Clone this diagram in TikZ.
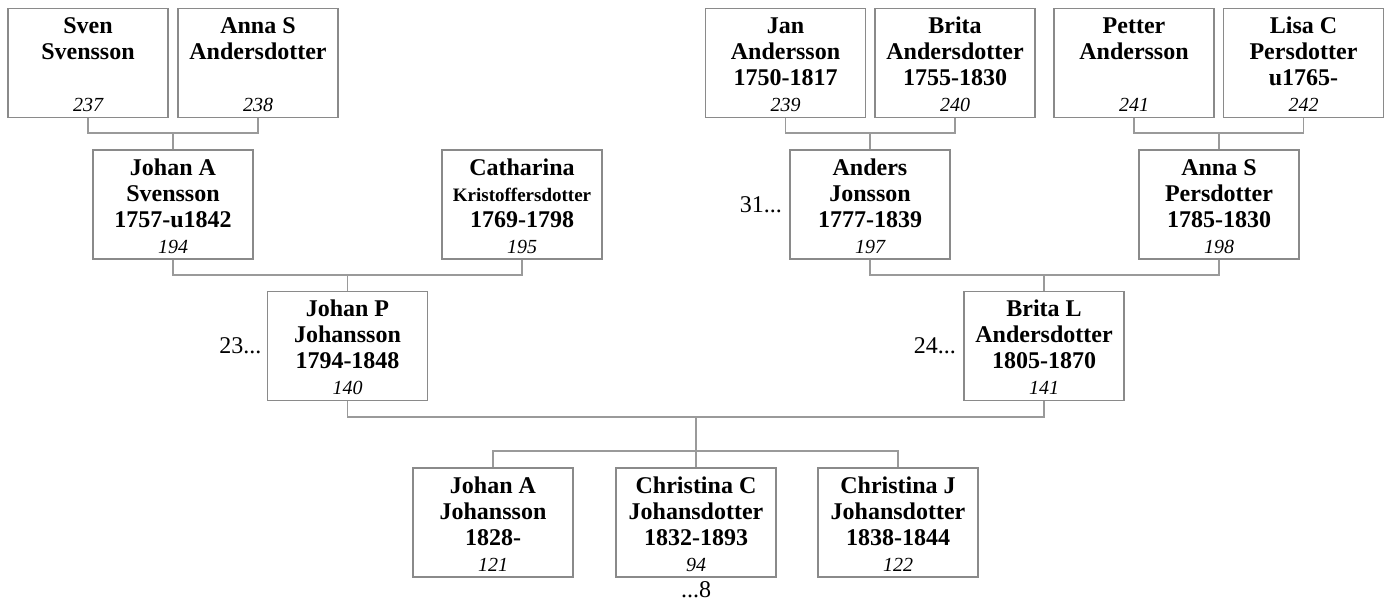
\documentclass[tikz,border=0pt]{standalone}
\usepackage{fontspec}
\setmainfont{Liberation Serif}
\usepackage{tikz}
\usetikzlibrary{positioning}
\definecolor{linegray}{HTML}{9A9A9A}
\definecolor{boxgray}{HTML}{8A8A8A}
% box text: bold name lines on top, italic number at the bottom
\newcommand{\famtext}[2]{\parbox[t][54.5pt][t]{80pt}{\centering
  \fontsize{12}{13}\selectfont\bfseries\rule{0pt}{12.5pt}#1\par\vfill
  {\fontsize{10}{12}\selectfont\mdseries\itshape #2\rule[-3pt]{0pt}{3pt}}\par}}

\begin{document}
\begin{tikzpicture}[x=0.5pt, y=-0.5pt,
  person/.style={draw=boxgray, line width=0.7pt, inner sep=0pt},
  link/.style={draw=linegray, line width=0.8pt},
  more/.style={inner sep=0.5pt, font=\fontsize{12}{13}\selectfont}]
  \useasboundingbox (0,0) rectangle (1387,601);

  % Great-grandparents
  \node[person] (sven)   at (88,63)     {\famtext{Sven\\Svensson}{237}};
  \node[person] (annaA)  at (258,63)    {\famtext{Anna S\\Andersdotter}{238}};
  \node[person] (jan)    at (785.5,63)  {\famtext{Jan\\Andersson\\1750-1817}{239}};
  \node[person] (brita)  at (955,63)    {\famtext{Brita\\Andersdotter\\1755-1830}{240}};
  \node[person] (petter) at (1134,63)   {\famtext{Petter\\Andersson}{241}};
  \node[person] (lisa)   at (1303.5,63) {\famtext{Lisa C\\Persdotter\\u1765-}{242}};

  % Grandparents
  \node[person] (johanA)    at (173,204.5)  {\famtext{Johan A\\Svensson\\1757-u1842}{194}};
  \node[person] (catharina) at (522,204.5)  {\famtext{Catharina\\{\fontsize{9.5}{13}\selectfont Kristoffersdotter}\\1769-1798}{195}};
  \node[person] (anders)    at (870,204.5)  {\famtext{Anders\\Jonsson\\1777-1839}{197}};
  \node[person] (annaP)     at (1219,204.5) {\famtext{Anna S\\Persdotter\\1785-1830}{198}};

  % Parents
  \node[person] (johanP) at (347.5,346) {\famtext{Johan P\\Johansson\\1794-1848}{140}};
  \node[person] (brital) at (1044,346)  {\famtext{Brita L\\Andersdotter\\1805-1870}{141}};

  % Children
  \node[person] (johanJ)     at (493,522.5) {\famtext{Johan A\\Johansson\\1828-}{121}};
  \node[person] (christinaC) at (696,522.5) {\famtext{Christina C\\Johansdotter\\1832-1893}{94}};
  \node[person] (christinaJ) at (898,522.5) {\famtext{Christina J\\Johansdotter\\1838-1844}{122}};

  % Links to further pages
  \node[more, left=2pt of johanP] (johanP-up) {23...};
  \node[more, left=3pt of anders] (anders-up) {31...};
  \node[more, left=3pt of brital] (brital-up) {24...};
  \node[more, below=1pt of christinaC] (christinaC-down) {...8};

  % Junctions
  \coordinate (j1) at (173,133);
  \coordinate (j2) at (870,133);
  \coordinate (j3) at (1219,133);
  \coordinate (j4) at (347.5,275);
  \coordinate (j5) at (1044,275);
  \coordinate (j6) at (696,417);
  \coordinate (kids) at (696,451);

  % Connect the couples to their children
  \draw[link] (sven.south) |- (j1) -| (annaA.south);
  \draw[link] (j1) -- (johanA.north);
  \draw[link] (jan.south) |- (j2) -| (brita.south);
  \draw[link] (j2) -- (anders.north);
  \draw[link] (petter.south) |- (j3) -| (lisa.south);
  \draw[link] (j3) -- (annaP.north);
  \draw[link] (johanA.south) |- (j4) -| (catharina.south);
  \draw[link] (j4) -- (johanP.north);
  \draw[link] (anders.south) |- (j5) -| (annaP.south);
  \draw[link] (j5) -- (brital.north);
  \draw[link] (johanP.south) |- (j6) -| (brital.south);
  \draw[link] (j6) -- (christinaC.north);
  \draw[link] (johanJ.north) |- (kids) -| (christinaJ.north);
\end{tikzpicture}
\end{document}
